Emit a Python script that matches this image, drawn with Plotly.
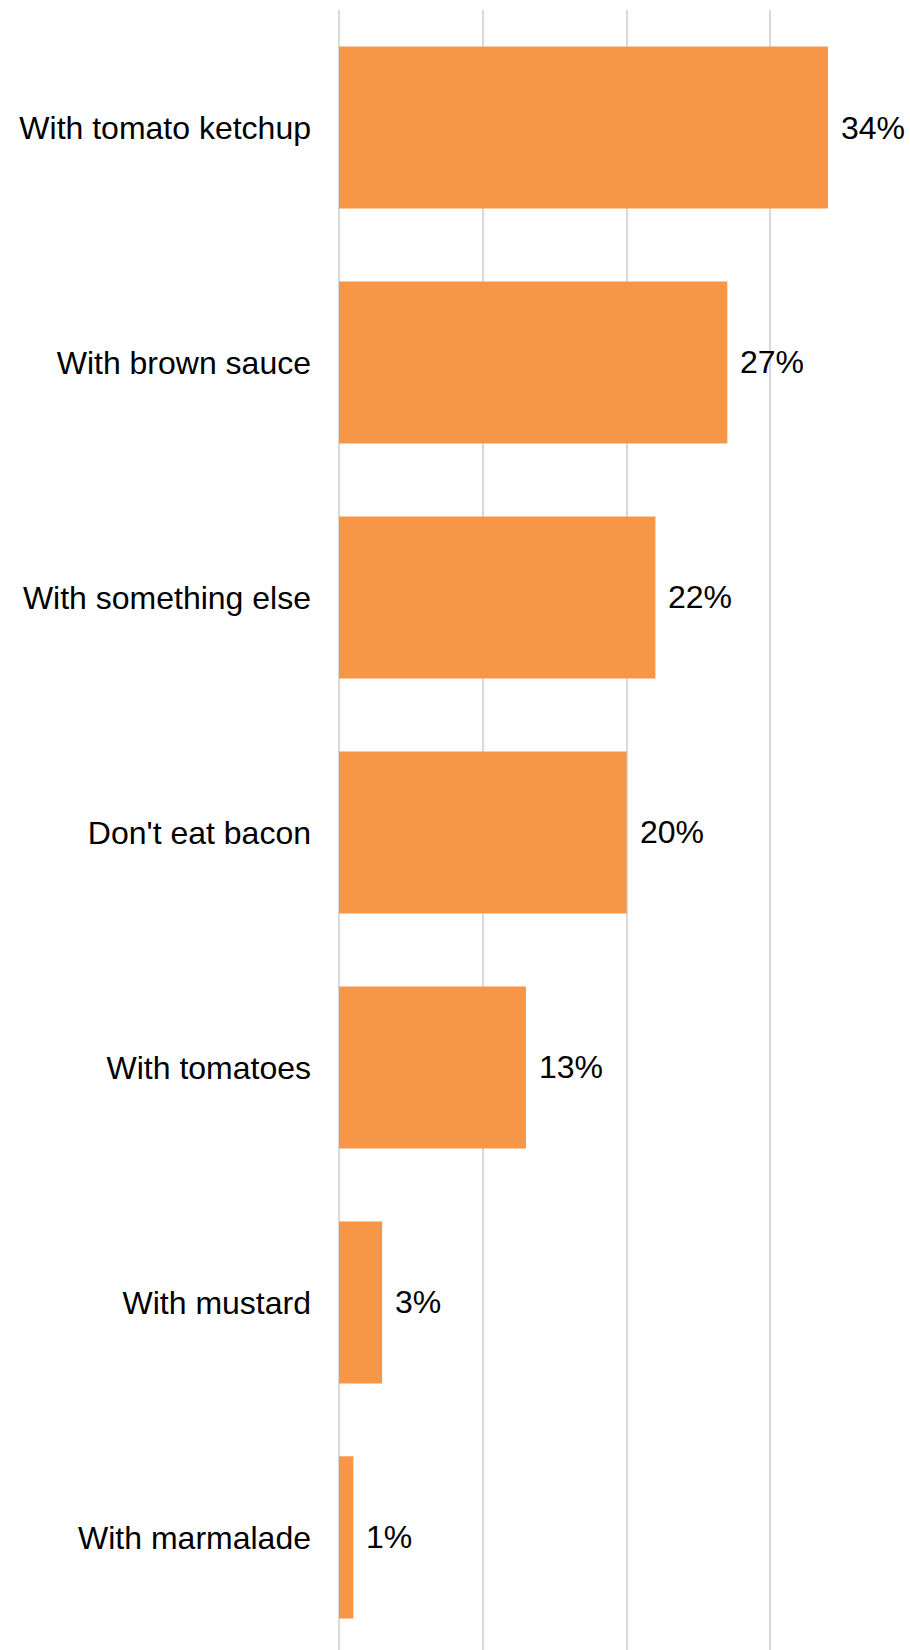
import plotly.graph_objects as go

# Survey: how people take their bacon sandwich
categories = [
    "With tomato ketchup",
    "With brown sauce",
    "With something else",
    "Don't eat bacon",
    "With tomatoes",
    "With mustard",
    "With marmalade",
]
shares = [34, 27, 22, 20, 13, 3, 1]
share_labels = ["34%", "27%", "22%", "20%", "13%", "3%", "1%"]

BAR_COLOR = "#F79646"
GRID_COLOR = "#d9d9d9"
FONT = "Liberation Sans, Arial, sans-serif"

fig = go.Figure(
    go.Bar(
        x=shares,
        y=categories,
        orientation="h",
        marker=dict(color=BAR_COLOR, line=dict(width=0)),
        hoverinfo="skip",
    )
)

# value labels to the right of each bar
for cat, val, lab in zip(categories, shares, share_labels):
    fig.add_annotation(
        x=val, y=cat, text=lab, showarrow=False,
        xanchor="left", yanchor="middle", xshift=11,
        font=dict(family=FONT, size=32, color="#000000"),
    )

fig.update_layout(
    width=910, height=1650,
    margin=dict(l=339, r=0, t=10, b=0),
    paper_bgcolor="white", plot_bgcolor="white",
    bargap=0.31,
    showlegend=False,
    xaxis=dict(
        range=[0, 39.7],
        tickvals=[0, 10, 20, 30],
        showticklabels=False,
        showgrid=True, gridcolor=GRID_COLOR, gridwidth=2,
        zeroline=True, zerolinecolor=GRID_COLOR, zerolinewidth=2,
        showline=False, fixedrange=True,
    ),
    yaxis=dict(
        range=[6.479, -0.5],
        categoryorder="array", categoryarray=categories,
        showgrid=False, zeroline=False, showline=False,
        ticks="", ticklabelstandoff=27,
        tickfont=dict(family=FONT, size=32, color="#000000"),
        fixedrange=True,
    ),
)

fig.write_html("out.html")
